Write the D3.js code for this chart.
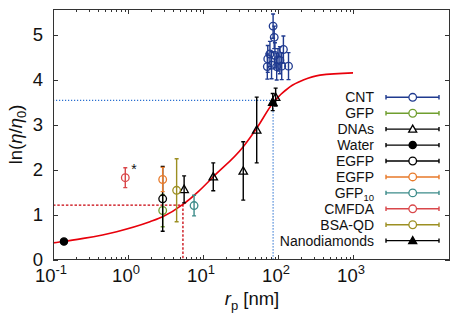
<!DOCTYPE html>
<html>
<head>
<meta charset="utf-8">
<script src="https://cdn.jsdelivr.net/npm/d3@7"></script>
<style>
  body { margin: 0; background: #fff; }
  svg { font-family: "Liberation Sans", Arial, sans-serif; }
</style>
</head>
<body>
<div id="chart"></div>
<script>
// Data: r_p [nm], ln(eta/eta0), error
const cntData = [
  { r: 86, v: 5.20, e: 0.27 },
  { r: 89, v: 4.95, e: 0.25 },
  { r: 118, v: 4.68, e: 0.30 },
  { r: 78, v: 4.58, e: 0.28 },
  { r: 91, v: 4.55, e: 0.28 },
  { r: 73, v: 4.47, e: 0.30 },
  { r: 106, v: 4.44, e: 0.30 },
  { r: 100, v: 4.45, e: 0.25 },
  { r: 82, v: 4.33, e: 0.30 },
  { r: 72, v: 4.30, e: 0.28 },
  { r: 96, v: 4.30, e: 0.30 },
  { r: 112, v: 4.31, e: 0.30 },
  { r: 138, v: 4.31, e: 0.30 }
];
const gfpData = [{ r: 2.9, v: 1.10, e: 0.36 }];
const dnaData = [
  { r: 5.6, v: 1.57, e: 0.30 },
  { r: 13.7, v: 1.85, e: 0.31 },
  { r: 34.4, v: 1.98, e: 0.65 },
  { r: 52, v: 2.89, e: 0.73 },
  { r: 93, v: 3.62, e: 0.20 }
];
const waterData = [{ r: 0.14, v: 0.41, e: 0 }];
const egfpBlackData = [{ r: 2.9, v: 1.36, e: 0.72 }];
const egfpOrangeData = [{ r: 2.9, v: 1.79, e: 0.27 }];
const gfp10Data = [{ r: 7.6, v: 1.21, e: 0.23 }];
const cmfdaData = [{ r: 0.92, v: 1.83, e: 0.22 }];
const bsaqdData = [{ r: 4.45, v: 1.55, e: 0.70 }];
const nanoData = [{ r: 85, v: 3.51, e: 0.19 }];

// Fit curve
const fitR = [0.1, 0.14, 0.254, 0.706, 1.96, 2.9, 5.46, 8.65, 13.7, 34.4, 52, 86.5, 144, 217, 363, 1000];
const fitV = [0.38, 0.41, 0.48, 0.63, 0.85, 0.96, 1.24, 1.52, 1.85, 2.52, 2.93, 3.50, 3.85, 4.00, 4.11, 4.16];

// Guide lines
const blueGuide = { r: 86, v: 3.55 };
const redGuide = { r: 5.4, v: 1.22 };

const xTickExps = [-1, 0, 1, 2, 3];
const yTicks = [0, 1, 2, 3, 4, 5];

const series = [
  { name: 'CNT', color: '#1f3a8f', symbol: 'circle', filled: false, data: cntData },
  { name: 'GFP', color: '#6f9e2e', symbol: 'circle', filled: false, data: gfpData },
  { name: 'DNAs', color: '#000', symbol: 'triangle', filled: false, data: dnaData },
  { name: 'Water', color: '#000', symbol: 'circle', filled: true, data: waterData },
  { name: 'EGFP', color: '#000', symbol: 'circle', filled: false, data: egfpBlackData },
  { name: 'EGFP', color: '#e87a2a', symbol: 'circle', filled: false, data: egfpOrangeData },
  { name: 'GFP10', color: '#3d8c8a', symbol: 'circle', filled: false, data: gfp10Data },
  { name: 'CMFDA', color: '#d9474a', symbol: 'circle', filled: false, data: cmfdaData },
  { name: 'BSA-QD', color: '#9c8f22', symbol: 'circle', filled: false, data: bsaqdData },
  { name: 'Nanodiamonds', color: '#000', symbol: 'triangle', filled: true, data: nanoData }
];

const width = 455, height = 317;
const margin = { left: 53, top: 9, right: 5, bottom: 57 };

const svg = d3.select('#chart').append('svg')
  .attr('width', width)
  .attr('height', height);

const x = d3.scaleLog()
  .domain([0.1, Math.pow(10, 4.293)])
  .range([margin.left, width - margin.right]);

const y = d3.scaleLinear()
  .domain([0, 5.58])
  .range([height - margin.bottom, margin.top]);

const x0 = x.range()[0], x1 = x.range()[1];
const y0 = y.range()[0], y1 = y.range()[1];

// Ticks (inward on all four sides)
const minorX = [];
for (let e = -1; e < 3; e++) {
  for (let k = 2; k <= 9; k++) minorX.push(k * Math.pow(10, e));
}
const tickG = svg.append('g').attr('stroke', '#333').attr('stroke-width', 1);
xTickExps.forEach(e => {
  const px = Math.round(x(Math.pow(10, e))) + 0.5;
  tickG.append('line').attr('x1', px).attr('x2', px).attr('y1', y0).attr('y2', y0 - 5);
  tickG.append('line').attr('x1', px).attr('x2', px).attr('y1', y1).attr('y2', y1 + 5);
});
minorX.forEach(v => {
  const px = Math.round(x(v)) + 0.5;
  tickG.append('line').attr('x1', px).attr('x2', px).attr('y1', y0).attr('y2', y0 - 3);
  tickG.append('line').attr('x1', px).attr('x2', px).attr('y1', y1).attr('y2', y1 + 3);
});
yTicks.forEach(t => {
  const py = Math.round(y(t)) + 0.5;
  tickG.append('line').attr('x1', x0).attr('x2', x0 + 5).attr('y1', py).attr('y2', py);
  tickG.append('line').attr('x1', x1).attr('x2', x1 - 5).attr('y1', py).attr('y2', py);
});

// Tick labels
const xLab = svg.append('g').attr('font-size', 18.5).attr('fill', '#111').attr('text-anchor', 'middle');
xTickExps.forEach(e => {
  const t = xLab.append('text')
    .attr('x', x(Math.pow(10, e)) - 2)
    .attr('y', y0 + 22);
  t.append('tspan').text('10');
  t.append('tspan').attr('dy', -8).attr('font-size', 13).text(e);
});
svg.append('g').attr('font-size', 18.5).attr('fill', '#111').attr('text-anchor', 'end')
  .selectAll('text').data(yTicks).enter().append('text')
  .attr('x', 43)
  .attr('y', d => y(d) + 6)
  .text(d => d);

// Axis titles
const yTitle = svg.append('text')
  .attr('transform', `translate(22, ${(y0 + y1) / 2}) rotate(-90)`)
  .attr('text-anchor', 'middle')
  .attr('font-size', 18.5)
  .attr('fill', '#111');
yTitle.append('tspan').text('ln(');
yTitle.append('tspan').attr('font-style', 'italic').text('η');
yTitle.append('tspan').text('/');
yTitle.append('tspan').attr('font-style', 'italic').text('η');
yTitle.append('tspan').attr('font-size', 13).attr('dy', 4).text('0');
yTitle.append('tspan').attr('dy', -4).text(')');

const xTitle = svg.append('text')
  .attr('x', 252)
  .attr('y', 305)
  .attr('text-anchor', 'middle')
  .attr('font-size', 18.5)
  .attr('fill', '#111');
xTitle.append('tspan').attr('font-style', 'italic').text('r');
xTitle.append('tspan').attr('font-size', 13).attr('dy', 5).text('p');
xTitle.append('tspan').attr('dy', -5).text(' [nm]');

// Guide lines
svg.append('path')
  .attr('d', `M${x0},${y(blueGuide.v)}H${x(blueGuide.r)}V${y0}`)
  .attr('fill', 'none')
  .attr('stroke', '#2a6fd0')
  .attr('stroke-width', 1.2)
  .attr('stroke-dasharray', '1.2,1.8');
svg.append('path')
  .attr('d', `M${x0},${y(redGuide.v)}H${x(redGuide.r)}V${y0}`)
  .attr('fill', 'none')
  .attr('stroke', '#c8000a')
  .attr('stroke-width', 1.3)
  .attr('stroke-dasharray', '2.5,1.8');

// Fit curve
const fitPts = fitR.map((r, i) => [r, fitV[i]]);
svg.append('path')
  .datum(fitPts)
  .attr('fill', 'none')
  .attr('stroke', '#e8000b')
  .attr('stroke-width', 1.6)
  .attr('d', d3.line().x(d => x(d[0])).y(d => y(d[1])).curve(d3.curveMonotoneX));

// Marker drawing
function drawMarker(g, s, cx, cy) {
  if (s.symbol === 'circle') {
    g.append('circle')
      .attr('cx', cx).attr('cy', cy).attr('r', s.filled ? 3.6 : 3.8)
      .attr('fill', s.filled ? s.color : 'none')
      .attr('stroke', s.color)
      .attr('stroke-width', 1.3);
  } else {
    const h = 4.2;
    g.append('path')
      .attr('d', `M${cx},${cy - h}L${cx + h},${cy + h * 0.75}L${cx - h},${cy + h * 0.75}Z`)
      .attr('fill', s.filled ? s.color : 'none')
      .attr('stroke', s.color)
      .attr('stroke-width', 1.3);
  }
}

// Error bars and points
const dataG = svg.append('g');
series.forEach(s => {
  s.data.forEach(d => {
    const cx = x(d.r);
    if (d.e > 0) {
      const yt = y(d.v + d.e), yb = y(d.v - d.e);
      dataG.append('path')
        .attr('d', `M${cx},${yt}V${yb}M${cx - 2},${yt}H${cx + 2}M${cx - 2},${yb}H${cx + 2}`)
        .attr('stroke', s.color)
        .attr('stroke-width', 1.4)
        .attr('fill', 'none');
    }
    drawMarker(dataG, s, cx, y(d.v));
  });
});

// Asterisk next to CMFDA
svg.append('text')
  .attr('x', x(cmfdaData[0].r) + 6)
  .attr('y', y(cmfdaData[0].v) - 4)
  .attr('font-size', 14)
  .attr('fill', '#111')
  .text('*');

// Legend
const legend = svg.append('g').attr('transform', 'translate(0, 97.3)');
series.forEach((s, i) => {
  const ly = i * 15.93;
  const item = legend.append('g').attr('transform', `translate(0, ${ly})`);
  const label = item.append('text')
    .attr('x', 374)
    .attr('y', 5)
    .attr('text-anchor', 'end')
    .attr('font-size', 14)
    .attr('fill', '#111');
  if (s.name === 'GFP10') {
    label.append('tspan').text('GFP');
    label.append('tspan').attr('font-size', 9.5).attr('dy', 3).text('10');
  } else {
    label.text(s.name);
  }
  item.append('path')
    .attr('d', 'M386,0H439M386,-2.2V2.2M439,-2.2V2.2')
    .attr('stroke', s.color)
    .attr('stroke-width', 1.4)
    .attr('fill', 'none');
  if (s.symbol === 'triangle') {
    const h = 4;
    item.append('path')
      .attr('d', `M412.7,${-h}L${412.7 + h},${h * 0.75}L${412.7 - h},${h * 0.75}Z`)
      .attr('fill', s.filled ? s.color : '#fff')
      .attr('stroke', s.color)
      .attr('stroke-width', 1.3);
  } else {
    item.append('circle')
      .attr('cx', 412.7).attr('cy', 0).attr('r', s.filled ? 3.6 : 3.8)
      .attr('fill', s.filled ? s.color : '#fff')
      .attr('stroke', s.color)
      .attr('stroke-width', 1.3);
  }
});

// Frame
svg.append('rect')
  .attr('x', x0 + 0.5).attr('y', y1 + 0.5)
  .attr('width', x1 - x0 - 1).attr('height', y0 - y1 - 1)
  .attr('fill', 'none')
  .attr('stroke', '#333')
  .attr('stroke-width', 1);
</script>
</body>
</html>
